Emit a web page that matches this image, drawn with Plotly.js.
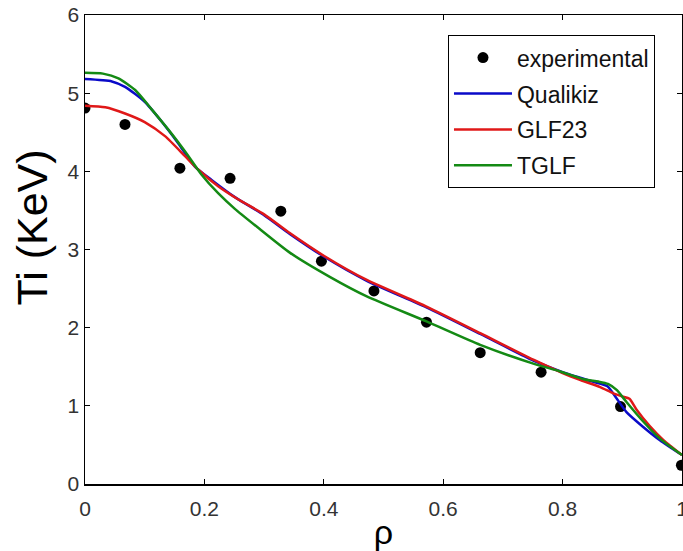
<!DOCTYPE html>
<html>
<head>
<meta charset="utf-8">
<script src="https://cdn.plot.ly/plotly-3.0.1.min.js"></script>
<style>html,body{margin:0;padding:0;background:#fff;}#chart{width:683px;height:551px;}</style>
</head>
<body>
<div id="chart"></div>
<script>
// Experimental points
const rhoExp = [0, 0.067, 0.159, 0.243, 0.328, 0.396, 0.484, 0.572, 0.662, 0.764, 0.897, 0.999];
const tiExp  = [4.81, 4.60, 4.04, 3.91, 3.49, 2.85, 2.47, 2.07, 1.68, 1.43, 0.99, 0.24];

// Qualikiz (blue)
const rhoQualikiz = [0, 0.045, 0.067, 0.1, 0.128, 0.156, 0.184, 0.212, 0.251, 0.30, 0.343, 0.40, 0.472, 0.572, 0.662, 0.751, 0.80, 0.85, 0.875, 0.89, 0.907, 0.935, 0.963, 1.0];
const tiQualikiz  = [5.18, 5.15, 5.08, 4.89, 4.64, 4.36, 4.06, 3.89, 3.67, 3.44, 3.20, 2.91, 2.60, 2.26, 1.92, 1.58, 1.43, 1.31, 1.25, 1.10, 0.92, 0.73, 0.56, 0.37];

// GLF23 (red)
const rhoGLF23 = [0, 0.034, 0.067, 0.1, 0.134, 0.168, 0.19, 0.223, 0.257, 0.30, 0.343, 0.40, 0.472, 0.572, 0.662, 0.751, 0.80, 0.83, 0.863, 0.885, 0.90, 0.912, 0.924, 0.946, 0.969, 1.0];
const tiGLF23  = [4.84, 4.82, 4.74, 4.63, 4.45, 4.19, 4.02, 3.81, 3.64, 3.45, 3.21, 2.92, 2.61, 2.27, 1.93, 1.59, 1.42, 1.33, 1.24, 1.16, 1.12, 1.09, 0.95, 0.74, 0.56, 0.37];

// TGLF (green)
const rhoTGLF = [0, 0.03, 0.056, 0.084, 0.112, 0.14, 0.168, 0.195, 0.223, 0.251, 0.288, 0.343, 0.41, 0.472, 0.572, 0.662, 0.751, 0.796, 0.835, 0.86, 0.876, 0.891, 0.907, 0.935, 0.963, 1.0];
const tiTGLF  = [5.26, 5.25, 5.19, 5.04, 4.79, 4.53, 4.25, 3.96, 3.72, 3.52, 3.29, 2.96, 2.65, 2.40, 2.08, 1.78, 1.54, 1.44, 1.34, 1.31, 1.28, 1.20, 1.05, 0.80, 0.58, 0.37];

const xTickVals = [0, 0.2, 0.4, 0.6, 0.8, 1];
const xTickText = ['0', '0.2', '0.4', '0.6', '0.8', '1'];
const yTickVals = [0, 1, 2, 3, 4, 5, 6];
const yTickText = ['0', '1', '2', '3', '4', '5', '6'];

const FONT = 'Liberation Sans, Arial, Helvetica, sans-serif';
const lineStyle = (c) => ({color: c, width: 2.5, shape: 'spline', smoothing: 0.6});

const traces = [
  {x: rhoExp, y: tiExp, name: 'experimental', mode: 'markers', type: 'scatter', legendgroup: 'a',
   marker: {color: '#000', size: 11, symbol: 'circle'}},
  {x: rhoQualikiz, y: tiQualikiz, name: 'Qualikiz', mode: 'lines', type: 'scatter', legendgroup: 'b',
   line: lineStyle('#0a0ac8')},
  {x: rhoGLF23, y: tiGLF23, name: 'GLF23', mode: 'lines', type: 'scatter', legendgroup: 'c',
   line: lineStyle('#e01818')},
  {x: rhoTGLF, y: tiTGLF, name: 'TGLF', mode: 'lines', type: 'scatter', legendgroup: 'd',
   line: lineStyle('#148a14')}
];

const axisCommon = {
  showline: true, mirror: 'ticks', linecolor: '#000', linewidth: 1.5,
  ticks: 'inside', ticklen: 5, tickwidth: 1.2, tickcolor: '#000',
  showgrid: false, zeroline: false, ticklabeloverflow: 'allow',
  tickfont: {family: FONT, size: 21, color: '#333'}
};

const layout = {
  width: 683, height: 551,
  margin: {l: 85, r: 1, t: 15, b: 67},
  paper_bgcolor: '#fff', plot_bgcolor: '#fff',
  font: {family: FONT, color: '#000'},
  showlegend: true,
  legend: {
    x: 0.608, y: 0.957, xanchor: 'left', yanchor: 'top',
    bgcolor: '#fff', bordercolor: '#000', borderwidth: 1,
    font: {family: FONT, size: 23, color: '#111'},
    itemwidth: 58,
    tracegroupgap: 3, traceorder: 'grouped'
  },
  xaxis: Object.assign({}, axisCommon, {
    range: [0, 1], tickvals: xTickVals, ticktext: xTickText, ticklabelstandoff: 5,
    title: {text: 'ρ', font: {family: FONT, size: 34, color: '#000'}, standoff: 2}
  }),
  yaxis: Object.assign({}, axisCommon, {
    range: [0, 6], tickvals: yTickVals, ticktext: yTickText
  }),
  annotations: [{
    text: 'Ti (KeV)', textangle: -90, showarrow: false,
    xref: 'paper', yref: 'paper', x: (31 - 85) / 597, y: (484 - 227.5) / 469,
    xanchor: 'center', yanchor: 'middle',
    font: {family: FONT, size: 43, color: '#000'}
  }]
};

Plotly.newPlot('chart', traces, layout, {displayModeBar: false, staticPlot: true});
</script>
</body>
</html>
